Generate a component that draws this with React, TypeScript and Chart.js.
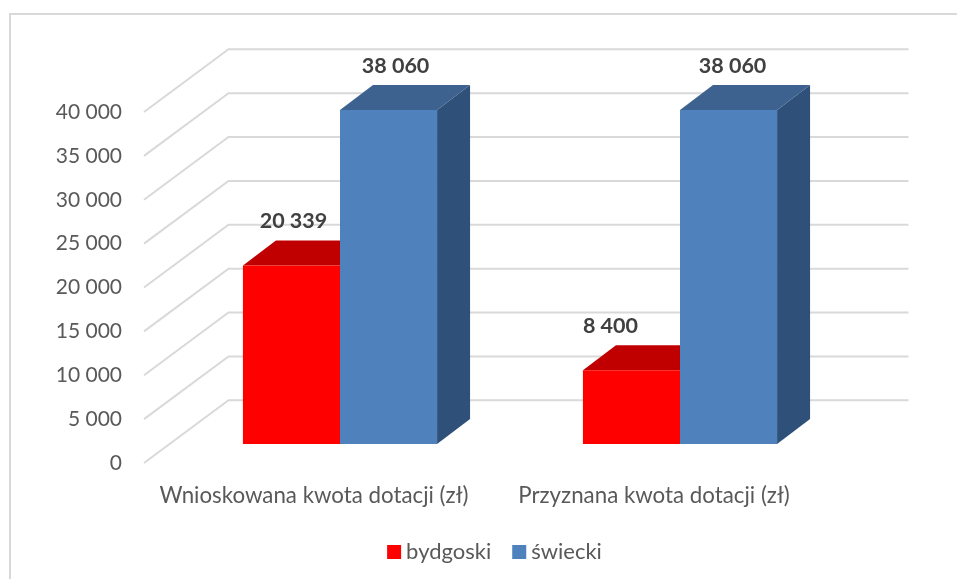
import React, { useEffect, useRef } from "react";
import { Chart, registerables } from "chart.js";

Chart.register(...registerables);

const categories = ["Wnioskowana kwota dotacji (zł)", "Przyznana kwota dotacji (zł)"];
const seriesNames = ["bydgoski", "świecki"];
const bydgoski = [20339, 8400];
const swiecki = [38060, 38060];
const frontColors = ["#ff0000", "#4f81bd"];
const topColors = ["#c00000", "#3d628f"];
const sideColors = ["#a00000", "#2f5078"];
const labelShift = [[2, -21], [7, 4]];

const FONT = "Lato, Carlito, Calibri, sans-serif";
const GRID_DX = 84.5, GRID_DY = 62.7;
const BAR_DX = 26, BAR_DY = 19;
const DEPTH_X = 33, DEPTH_Y = 25;

const fmt = (v: number) => String(v).replace(/\B(?=(\d{3})+(?!\d))/g, " ");

const depth3d = {
  id: "depth3d",
  beforeDatasetsDraw(chart: any) {
    const { ctx, chartArea, scales } = chart;
    ctx.save();
    ctx.strokeStyle = "#d9d9d9";
    ctx.lineWidth = 2;
    scales.y.ticks.forEach((t: any) => {
      const y = scales.y.getPixelForValue(t.value);
      ctx.beginPath();
      ctx.moveTo(chartArea.left, y);
      ctx.lineTo(chartArea.left + GRID_DX, y - GRID_DY);
      ctx.lineTo(chartArea.right + GRID_DX, y - GRID_DY);
      ctx.stroke();
    });
    ctx.restore();
    ctx.save();
    ctx.translate(BAR_DX, -BAR_DY);
    const base = scales.y.getPixelForValue(0);
    chart.data.datasets.forEach((_: any, di: number) => {
      chart.getDatasetMeta(di).data.forEach((bar: any) => {
        const l = bar.x - bar.width / 2, r = bar.x + bar.width / 2, t = bar.y;
        ctx.fillStyle = sideColors[di];
        ctx.beginPath();
        ctx.moveTo(r, t);
        ctx.lineTo(r + DEPTH_X, t - DEPTH_Y);
        ctx.lineTo(r + DEPTH_X, base - DEPTH_Y);
        ctx.lineTo(r, base);
        ctx.closePath();
        ctx.fill();
        ctx.fillStyle = topColors[di];
        ctx.beginPath();
        ctx.moveTo(l, t);
        ctx.lineTo(l + DEPTH_X, t - DEPTH_Y);
        ctx.lineTo(r + DEPTH_X, t - DEPTH_Y);
        ctx.lineTo(r, t);
        ctx.closePath();
        ctx.fill();
      });
    });
    // front faces are drawn by the library inside this translation
  },
  afterDatasetsDraw(chart: any) {
    const { ctx } = chart;
    ctx.restore();
    ctx.save();
    ctx.font = `bold 21.5px ${FONT}`;
    ctx.fillStyle = "#404040";
    ctx.textAlign = "center";
    ctx.textBaseline = "middle";
    chart.data.datasets.forEach((ds: any, di: number) => {
      chart.getDatasetMeta(di).data.forEach((bar: any, i: number) => {
        ctx.fillText(fmt(ds.data[i]), bar.x + BAR_DX + labelShift[di][i], bar.y - BAR_DY - 44);
      });
    });
    ctx.restore();
  },
};

export default function App() {
  const ref = useRef<HTMLCanvasElement>(null);
  useEffect(() => {
    const chart = new Chart(ref.current!, {
      type: "bar",
      data: {
        labels: categories,
        datasets: [
          { label: seriesNames[0], data: bydgoski, backgroundColor: frontColors[0], clip: false as any },
          { label: seriesNames[1], data: swiecki, backgroundColor: frontColors[1], clip: false as any },
        ],
      },
      options: {
        responsive: false,
        animation: false,
        layout: { padding: { left: 38, right: 0, top: 112, bottom: 6 } },
        datasets: { bar: { categoryPercentage: 0.571, barPercentage: 1 } },
        scales: {
          x: {
            grid: { display: false, drawTicks: false },
            border: { display: false },
            afterFit: (s: any) => { s.height = 51; },
            ticks: {
              font: { family: FONT, size: 22.3 },
              color: "#595959",
              padding: 19.5,
              maxRotation: 0,
              autoSkip: false,
            },
          },
          y: {
            min: 0,
            max: 40000,
            grid: { display: false, drawTicks: false },
            border: { display: false },
            afterFit: (s: any) => { s.width = 106; },
            ticks: {
              stepSize: 5000,
              font: { family: FONT, size: 21 },
              color: "#595959",
              padding: 22,
              callback: (v: any) => fmt(Number(v)),
            },
          },
          rightGap: {
            type: "linear",
            position: "right",
            grid: { display: false, drawTicks: false },
            border: { display: false },
            ticks: { display: false },
            afterFit: (s: any) => { s.width = 133; },
          },
        },
        plugins: {
          tooltip: { enabled: false },
          legend: {
            position: "bottom",
            labels: {
              font: { family: FONT, size: 22 },
              color: "#595959",
              boxWidth: 2,
              boxHeight: 2,
              padding: 27,
              generateLabels: (c: any) =>
                c.data.datasets.map((d: any, i: number) => ({
                  text: d.label,
                  fillStyle: frontColors[i],
                  strokeStyle: frontColors[i],
                  lineWidth: 12,
                  lineJoin: "miter",
                  fontColor: "#595959",
                  datasetIndex: i,
                })),
            },
          },
        },
      } as any,
      plugins: [depth3d],
    });
    return () => chart.destroy();
  }, []);
  return (
    <div style={{ position: "absolute", left: 0, top: 0, width: 957, height: 579, overflow: "hidden", background: "#fff" }}>
      <div style={{ position: "absolute", left: 9, top: 13, width: 948, height: 566, boxSizing: "border-box", borderTop: "2px solid #d9d9d9", borderLeft: "2px solid #d9d9d9" }} />
      <canvas ref={ref} width={957} height={579} style={{ position: "absolute", left: 0, top: 0 }} />
    </div>
  );
}
